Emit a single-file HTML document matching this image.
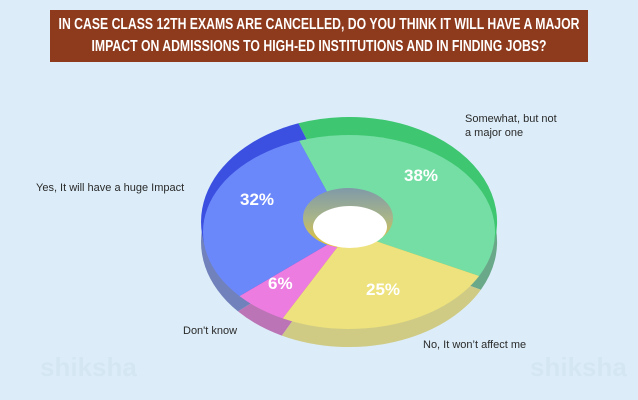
<!DOCTYPE html>
<html><head><meta charset="utf-8"><style>
body{margin:0;width:638px;height:400px;background:#dcedf9;font-family:"Liberation Sans",sans-serif;overflow:hidden;position:relative}
.t{position:absolute;left:50px;top:10px;width:538px;height:52px;background:#8e3a1c;overflow:hidden}
.tl{position:absolute;left:-200px;width:938px;text-align:center;color:#fff;font-weight:bold;font-size:16px;white-space:nowrap;transform:scaleX(0.765);transform-origin:469px 0;line-height:22px}
.l{position:absolute;font-size:11px;color:#2a2a2a;line-height:14px}
.p{position:absolute;color:#fff;font-weight:bold;font-size:17px}
.w{position:absolute;font-size:26px;font-weight:bold;color:#cfe1ee;opacity:.5}
</style></head><body>
<div class="w" style="left:40px;top:352px">shiksha</div>
<div class="w" style="left:530px;top:352px">shiksha</div>
<div class="t"><div class="tl" style="top:4px">IN CASE CLASS 12TH EXAMS ARE CANCELLED, DO YOU THINK IT WILL HAVE A MAJOR</div><div class="tl" style="top:26px">IMPACT ON ADMISSIONS TO HIGH-ED INSTITUTIONS AND IN FINDING JOBS?</div></div>
<svg width="638" height="400" style="position:absolute;left:0;top:0">
<defs><linearGradient id="h" x1="0" y1="0" x2="0" y2="1"><stop offset="0" stop-color="#7f9aa8"/><stop offset="0.5" stop-color="#a9b48a"/><stop offset="1" stop-color="#e9c52e"/></linearGradient></defs>
<g transform="translate(0,20)">
<path d="M349,222 L298.4,123.3 A148,105 0 0 1 480.9,269.7 Z" fill="#6aa88a"/>
<path d="M349,222 L480.9,269.7 A148,105 0 0 1 281.8,315.6 Z" fill="#cfcb85"/>
<path d="M349,222 L281.8,315.6 A148,105 0 0 1 238,291.4 Z" fill="#bb74b5"/>
<path d="M349,222 L238,291.4 A148,105 0 0 1 298.4,123.3 Z" fill="#7181bb"/>
</g>
<path d="M349,222 L298.4,123.3 A148,105 0 0 1 480.9,269.7 Z" fill="#3ec670"/>
<path d="M349,222 L480.9,269.7 A148,105 0 0 1 281.8,315.6 Z" fill="#b4af2a"/>
<path d="M349,222 L281.8,315.6 A148,105 0 0 1 238,291.4 Z" fill="#b01fa8"/>
<path d="M349,222 L238,291.4 A148,105 0 0 1 298.4,123.3 Z" fill="#3b50e0"/>
<path d="M349,232 L299.1,140.8 A146,97 0 0 1 479.1,276 Z" fill="#75dea4"/>
<path d="M349,232 L479.1,276 A146,97 0 0 1 282.7,318.4 Z" fill="#ede27d"/>
<path d="M349,232 L282.7,318.4 A146,97 0 0 1 239.5,296.1 Z" fill="#ec7ce0"/>
<path d="M349,232 L239.5,296.1 A146,97 0 0 1 299.1,140.8 Z" fill="#6b88fb"/>
<ellipse cx="348" cy="218" rx="45" ry="30" fill="url(#h)"/>
<ellipse cx="350" cy="227" rx="37" ry="21" fill="#fff"/>
</svg>
<div class="p" style="left:404px;top:166px">38%</div>
<div class="p" style="left:240px;top:190px">32%</div>
<div class="p" style="left:366px;top:280px">25%</div>
<div class="p" style="left:268px;top:274px">6%</div>
<div class="l" style="left:465px;top:112px">Somewhat, but not<br>a major one</div>
<div class="l" style="left:36px;top:181px">Yes, It will have a huge Impact</div>
<div class="l" style="left:183px;top:324px">Don't know</div>
<div class="l" style="left:423px;top:338px">No, It won’t affect me</div>
</body></html>
